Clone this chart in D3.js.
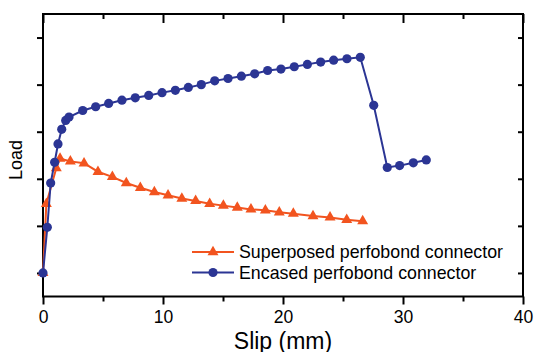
<!DOCTYPE html>
<html>
<head>
<meta charset="utf-8">
<script src="https://cdn.jsdelivr.net/npm/d3@7"></script>
<style>
  html, body { margin: 0; padding: 0; background: #fff; }
  svg { display: block; font-family: "Liberation Sans", Arial, sans-serif; }
</style>
</head>
<body>
<svg id="chart" width="534" height="352"></svg>
<script>
// ---- data ----
const superposedSlip = [0, 0.28, 1.11, 1.42, 2.28, 3.42, 4.58, 5.78, 6.94, 8.11, 9.28, 10.42, 11.57, 12.72, 13.89, 15.03, 16.19, 17.33, 18.53, 19.69, 20.86, 22.5, 23.92, 25.31, 26.64];
const superposedLoad = [0, 1.47, 2.23, 2.43, 2.37, 2.33, 2.15, 2.04, 1.91, 1.81, 1.72, 1.65, 1.58, 1.53, 1.47, 1.43, 1.39, 1.35, 1.33, 1.29, 1.26, 1.21, 1.18, 1.13, 1.10];
const encasedSlip = [0, 0.36, 0.64, 0.97, 1.25, 1.56, 1.89, 2.17, 3.31, 4.39, 5.47, 6.58, 7.69, 8.81, 9.92, 11.03, 12.11, 13.19, 14.31, 15.42, 16.53, 17.64, 18.72, 19.83, 20.94, 22.03, 23.14, 24.22, 25.33, 26.44, 27.56, 28.69, 29.72, 30.86, 31.94];
const encasedLoad = [0, 0.97, 1.91, 2.35, 2.74, 3.05, 3.24, 3.31, 3.45, 3.53, 3.60, 3.67, 3.72, 3.77, 3.83, 3.88, 3.94, 4.00, 4.08, 4.13, 4.18, 4.23, 4.30, 4.33, 4.38, 4.43, 4.48, 4.52, 4.55, 4.58, 3.56, 2.24, 2.28, 2.34, 2.40];
const seriesNames = ["Superposed perfobond connector", "Encased perfobond connector"];
const xMajorTicks = [0, 10, 20, 30, 40];
const xMinorTicks = [5, 15, 25, 35];
const yTicks = [0, 1, 2, 3, 4, 5];
const xTitle = "Slip (mm)";
const yTitle = "Load";

// ---- layout ----
const W = 534, H = 352;
const m = { left: 43, right: 11, top: 14, bottom: 55.5 };
const orange = "#F2541F", blue = "#2B3594";
const svg = d3.select("#chart");

const x = d3.scaleLinear().domain([0, 40]).range([m.left, W - m.right]);
const y = d3.scaleLinear().domain([-0.5, 5.5]).range([H - m.bottom, m.top]);

const axisStroke = g => {
  g.select(".domain").remove();
  g.selectAll(".tick line").attr("stroke", "#000").attr("stroke-width", 2);
  g.selectAll(".tick text").attr("font-size", 17.5).attr("fill", "#000")
    .attr("font-family", "Liberation Sans, Arial, sans-serif");
};

// bottom axis major + minor
svg.append("g").attr("transform", `translate(0,${y(-0.5)})`)
  .call(d3.axisBottom(x).tickValues(xMajorTicks).tickSize(8).tickPadding(6).tickFormat(d3.format("d")))
  .call(axisStroke);
svg.append("g").attr("transform", `translate(0,${y(-0.5)})`)
  .call(d3.axisBottom(x).tickValues(xMinorTicks).tickSize(5).tickFormat(""))
  .call(axisStroke);
// top axis inward
svg.append("g").attr("transform", `translate(0,${y(5.5)})`)
  .call(d3.axisBottom(x).tickValues(xMajorTicks).tickSize(9).tickFormat(""))
  .call(axisStroke);
svg.append("g").attr("transform", `translate(0,${y(5.5)})`)
  .call(d3.axisBottom(x).tickValues(xMinorTicks).tickSize(5).tickFormat(""))
  .call(axisStroke);
// left axis outward
svg.append("g").attr("transform", `translate(${x(0)},0)`)
  .call(d3.axisLeft(y).tickValues(yTicks).tickSize(6).tickFormat(""))
  .call(axisStroke);
// right axis inward
svg.append("g").attr("transform", `translate(${x(40)},0)`)
  .call(d3.axisLeft(y).tickValues(yTicks).tickSize(5).tickFormat(""))
  .call(axisStroke);

// frame
svg.append("rect")
  .attr("x", x(0)).attr("y", y(5.5))
  .attr("width", x(40) - x(0)).attr("height", y(-0.5) - y(5.5))
  .attr("fill", "none").attr("stroke", "#000").attr("stroke-width", 2);

// series
const line = d3.line().x(d => x(d[0])).y(d => y(d[1]));
const sup = superposedSlip.map((s, i) => [s, superposedLoad[i]]);
const enc = encasedSlip.map((s, i) => [s, encasedLoad[i]]);

const tri = d3.symbol().type(d3.symbolTriangle).size(52);

svg.append("path").datum(sup).attr("d", line)
  .attr("fill", "none").attr("stroke", orange).attr("stroke-width", 2);
svg.append("g").selectAll("path").data(sup).join("path")
  .attr("d", tri).attr("transform", d => `translate(${x(d[0])},${y(d[1])})`)
  .attr("fill", orange);

svg.append("path").datum(enc).attr("d", line)
  .attr("fill", "none").attr("stroke", blue).attr("stroke-width", 2);
svg.append("g").selectAll("circle").data(enc).join("circle")
  .attr("cx", d => x(d[0])).attr("cy", d => y(d[1])).attr("r", 4.6)
  .attr("fill", blue);

// legend
const legend = svg.append("g");
const legY = [252, 272.5];
const legColors = [orange, blue];
seriesNames.forEach((name, i) => {
  legend.append("line").attr("x1", 192).attr("x2", 234).attr("y1", legY[i]).attr("y2", legY[i])
    .attr("stroke", legColors[i]).attr("stroke-width", 2);
  if (i === 0) {
    legend.append("path").attr("d", tri).attr("transform", `translate(213,${legY[i]})`).attr("fill", orange);
  } else {
    legend.append("circle").attr("cx", 213).attr("cy", legY[i]).attr("r", 4.6).attr("fill", blue);
  }
  legend.append("text").attr("x", 239).attr("y", legY[i]).attr("dy", "0.35em")
    .attr("font-size", 17.8).attr("fill", "#000").text(name);
});

// axis titles
svg.append("text").attr("x", 283).attr("y", 348.5).attr("text-anchor", "middle")
  .attr("font-size", 23).attr("fill", "#000").text(xTitle);
svg.append("text").attr("transform", "translate(22,160) rotate(-90)")
  .attr("text-anchor", "middle").attr("font-size", 18).attr("fill", "#000").text(yTitle);
</script>
</body>
</html>
